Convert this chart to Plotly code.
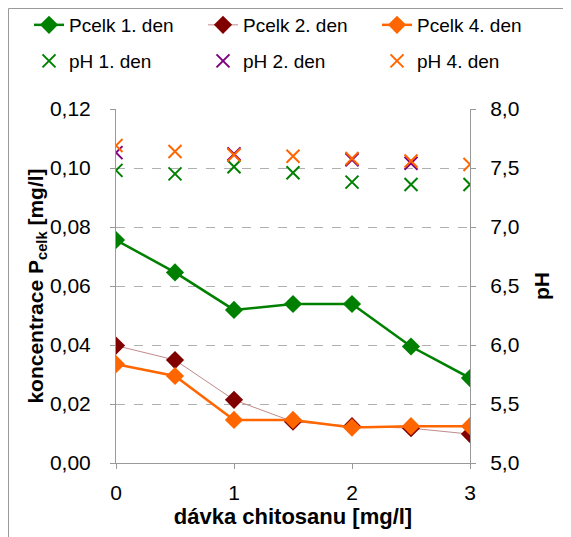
import plotly.graph_objects as go

x_dose = [0, 0.5, 1, 1.5, 2, 2.5, 3]
p_day1 = [0.0756, 0.0646, 0.0519, 0.0539, 0.0539, 0.0395, 0.0288]
p_day2 = [0.0398, 0.0349, 0.0214, 0.0140, 0.0125, 0.0118, 0.0098]
p_day4 = [0.0335, 0.0295, 0.0146, 0.0146, 0.0120, 0.0125, 0.0125]

ph_day1 = [7.48, 7.45, 7.51, 7.46, 7.38, 7.36, 7.36]
x_ph2 = [0, 1, 2, 2.5]
ph_day2 = [7.63, 7.62, 7.57, 7.54]
ph_day4 = [7.69, 7.64, 7.61, 7.60, 7.58, 7.56, 7.53]

GREEN = "#008000"
DARKRED = "#800000"
PINK = "#c08a8a"
ORANGE = "#ff6600"
PURPLE = "#800080"
FONT = "Liberation Sans, Arial, sans-serif"

W, H = 571, 537
L, R, T, B = 108, 109, 101, 82
pw, ph = W - L - R, H - T - B

fig = go.Figure()
fig.add_trace(go.Scatter(x=x_dose, y=p_day1, name="Pcelk 1. den", mode="lines+markers",
                         line=dict(color=GREEN, width=2.5),
                         marker=dict(symbol="diamond", size=14, color=GREEN), legend="legend"))
fig.add_trace(go.Scatter(x=x_dose, y=p_day2, name="Pcelk 2. den", mode="lines+markers",
                         line=dict(color=PINK, width=1),
                         marker=dict(symbol="diamond", size=14, color=DARKRED), legend="legend2"))
fig.add_trace(go.Scatter(x=x_dose, y=p_day4, name="Pcelk 4. den", mode="lines+markers",
                         line=dict(color=ORANGE, width=2.5),
                         marker=dict(symbol="diamond", size=14, color=ORANGE), legend="legend3"))
fig.add_trace(go.Scatter(x=x_dose, y=ph_day1, name="pH 1. den", mode="markers", yaxis="y2",
                         marker=dict(symbol="x-thin", size=13, line=dict(color=GREEN, width=2)),
                         legend="legend4"))
fig.add_trace(go.Scatter(x=x_ph2, y=ph_day2, name="pH 2. den", mode="markers", yaxis="y2",
                         marker=dict(symbol="x-thin", size=13, line=dict(color=PURPLE, width=2)),
                         legend="legend5"))
fig.add_trace(go.Scatter(x=x_dose, y=ph_day4, name="pH 4. den", mode="markers", yaxis="y2",
                         marker=dict(symbol="x-thin", size=13, line=dict(color=ORANGE, width=2)),
                         legend="legend6"))

def px2paperx(px):
    return (px - L) / pw

def px2papery(py):
    return (H - B - py) / ph

def leg(px, py):
    return dict(orientation="h", xref="container", yref="container", xanchor="left",
                yanchor="middle", x=px / W, y=1 - py / H,
                font=dict(family=FONT, size=19, color="black"),
                bgcolor="rgba(0,0,0,0)", borderwidth=0)

col_x = [21, 195, 369]
row_y = [17, 53]

fig.update_layout(
    width=W, height=H,
    margin=dict(l=L, r=R, t=T, b=B, autoexpand=False),
    paper_bgcolor="white", plot_bgcolor="white",
    separators=", ",
    font=dict(family=FONT, size=21, color="black"),
    showlegend=True,
    legend=leg(col_x[0], row_y[0]),
    legend2=leg(col_x[1], row_y[0]),
    legend3=leg(col_x[2], row_y[0]),
    legend4=leg(col_x[0], row_y[1]),
    legend5=leg(col_x[1], row_y[1]),
    legend6=leg(col_x[2], row_y[1]),
    xaxis=dict(range=[0, 3], tickvals=[0, 1, 2, 3], ticks="outside", ticklen=5,
               tickcolor="#999999", showgrid=False, showline=True, linecolor="#999999",
               linewidth=1, zeroline=False, mirror=False, ticklabelstandoff=6,
               tickfont=dict(size=21),
               title=dict(text="<b>dávka chitosanu [mg/l]</b>", font=dict(size=22), standoff=5)),
    yaxis=dict(range=[0, 0.12], tickvals=[0, 0.02, 0.04, 0.06, 0.08, 0.10, 0.12],
               tickformat=".2f", ticks="outside", ticklen=5, tickcolor="#999999",
               showgrid=True, gridcolor="#b0b0b0", griddash="dash", gridwidth=1,
               showline=True, linecolor="#999999", linewidth=1, zeroline=False,
               ticklabelstandoff=15, tickfont=dict(size=21),
               title=dict(text="<b>koncentrace P<sub>celk</sub> [mg/l]</b>", font=dict(size=21),
                          standoff=0)),
    yaxis2=dict(range=[5.0, 8.0], tickvals=[5.0, 5.5, 6.0, 6.5, 7.0, 7.5, 8.0],
                tickformat=".1f", overlaying="y", side="right", ticks="outside", ticklen=5,
                tickcolor="#999999", showgrid=False, showline=True, linecolor="#999999",
                linewidth=1, zeroline=False, ticklabelstandoff=10, tickfont=dict(size=21),
                title=dict(text="<b>pH</b>", font=dict(size=21), standoff=15)),
)

fig.add_shape(type="rect", xref="paper", yref="paper",
              x0=px2paperx(0.5), x1=px2paperx(558.5), y0=px2papery(580), y1=px2papery(0.5),
              line=dict(color="#999999", width=1), fillcolor="rgba(0,0,0,0)", layer="below")

fig.write_html("out.html")
